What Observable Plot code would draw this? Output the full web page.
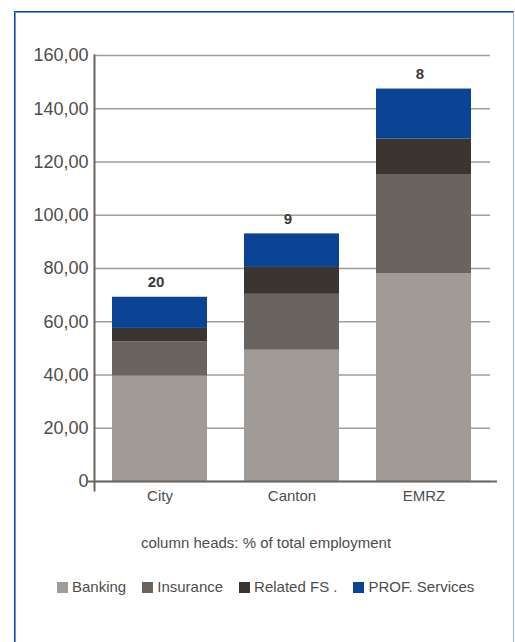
<!DOCTYPE html>
<html>
<head>
<meta charset="utf-8">
<script src="https://cdn.jsdelivr.net/npm/d3@7"></script>
<script src="https://cdn.jsdelivr.net/npm/@observablehq/plot@0.6"></script>
<style>
  html, body { margin: 0; padding: 0; background: #fff; }
  #wrap { position: relative; width: 515px; height: 642px; overflow: hidden; font-family: "Liberation Sans", Arial, sans-serif; color: #4d4d4d; }
  #box { position: absolute; left: 14px; top: 11px; width: 498px; height: 700px;
         border-top: 1px solid #1b409c; border-left: 1px solid #1b409c; border-right: 1px solid #9db6e2;
         box-shadow: inset 1px 1px 0 #6d97dc; }
  #chart { position: absolute; left: 0; top: 0; }
  #caption { position: absolute; left: 0; width: 532px; top: 534px; text-align: center; font-size: 15px; line-height: 18px; }
  #legend { position: absolute; left: 57px; top: 578px; font-size: 15px; line-height: 18px; white-space: nowrap; }
  .item { display: inline-block; margin-right: 16px; }
  .sw { display: inline-block; width: 11px; height: 11px; margin-right: 4px; vertical-align: -1px; }
</style>
</head>
<body>
<div id="wrap">
  <div id="box"></div>
  <div id="chart"></div>
  <div id="caption"></div>
  <div id="legend"></div>
</div>
<script>
const categories = ["City", "Canton", "EMRZ"];
const series = ["Banking", "Insurance", "Related FS .", "PROF. Services"];
const banking = [39.6, 49.3, 78.1];
const insurance = [12.9, 21.0, 37.2];
const relatedFS = [5.0, 10.1, 13.3];
const profServices = [11.7, 12.6, 18.8];
const columnHeads = ["20", "9", "8"];
const yTicks = [0, 20, 40, 60, 80, 100, 120, 140, 160];
const colors = ["#a09b97", "#6a6460", "#3a3531", "#0b4394"];
const captionText = "column heads: % of total employment";

const seriesValues = [banking, insurance, relatedFS, profServices];
const rows = [];
series.forEach((s, i) => categories.forEach((c, j) => rows.push({category: c, series: s, value: seriesValues[i][j]})));
const totals = categories.map((c, j) => ({category: c, total: seriesValues.reduce((a, arr) => a + arr[j], 0), label: columnHeads[j]}));

const fmt = d => d === 0 ? "0" : d.toFixed(2).replace(".", ",");

const chart = Plot.plot({
  width: 515,
  height: 515,
  marginLeft: 94,
  marginRight: 25,
  marginTop: 55,
  marginBottom: 34,
  style: {fontFamily: "'Liberation Sans', Arial, sans-serif", color: "#4d4d4d", background: "transparent", overflow: "visible"},
  x: {domain: categories, paddingInner: 0.28, paddingOuter: 0.14, label: null},
  y: {domain: [0, 160], label: null},
  color: {domain: series, range: colors},
  marks: [
    Plot.gridY(yTicks, {stroke: "#a09c98", strokeOpacity: 1, strokeWidth: 1.6}),
    Plot.barY(rows, Plot.stackY({x: "category", y: "value", fill: "series", order: series})),
    Plot.ruleY([0], {stroke: "#6b6560", strokeWidth: 2, insetRight: -7}),
    Plot.frame({anchor: "left", stroke: "#6b6560", strokeWidth: 2, insetBottom: -9}),
    Plot.axisY(yTicks, {tickSize: 0, tickPadding: 6, tickFormat: fmt, fontSize: 18}),
    Plot.axisY([0], {tickSize: 8, tickPadding: 0, tickFormat: () => "", stroke: "#6b6560", strokeWidth: 2}),
    Plot.axisX({tickSize: 0, tickPadding: 9, fontSize: 15}),
    Plot.text(totals, {x: "category", y: "total", text: "label", dy: -15, dx: -4, fontWeight: "bold", fontSize: 15, fill: "#3a3a3a"})
  ]
});
document.getElementById("chart").appendChild(chart);

document.getElementById("caption").textContent = captionText;
const legend = document.getElementById("legend");
series.forEach((s, i) => {
  const item = document.createElement("span");
  item.className = "item";
  const sw = document.createElement("span");
  sw.className = "sw";
  sw.style.background = colors[i];
  item.appendChild(sw);
  item.appendChild(document.createTextNode(s));
  legend.appendChild(item);
});
</script>
</body>
</html>
